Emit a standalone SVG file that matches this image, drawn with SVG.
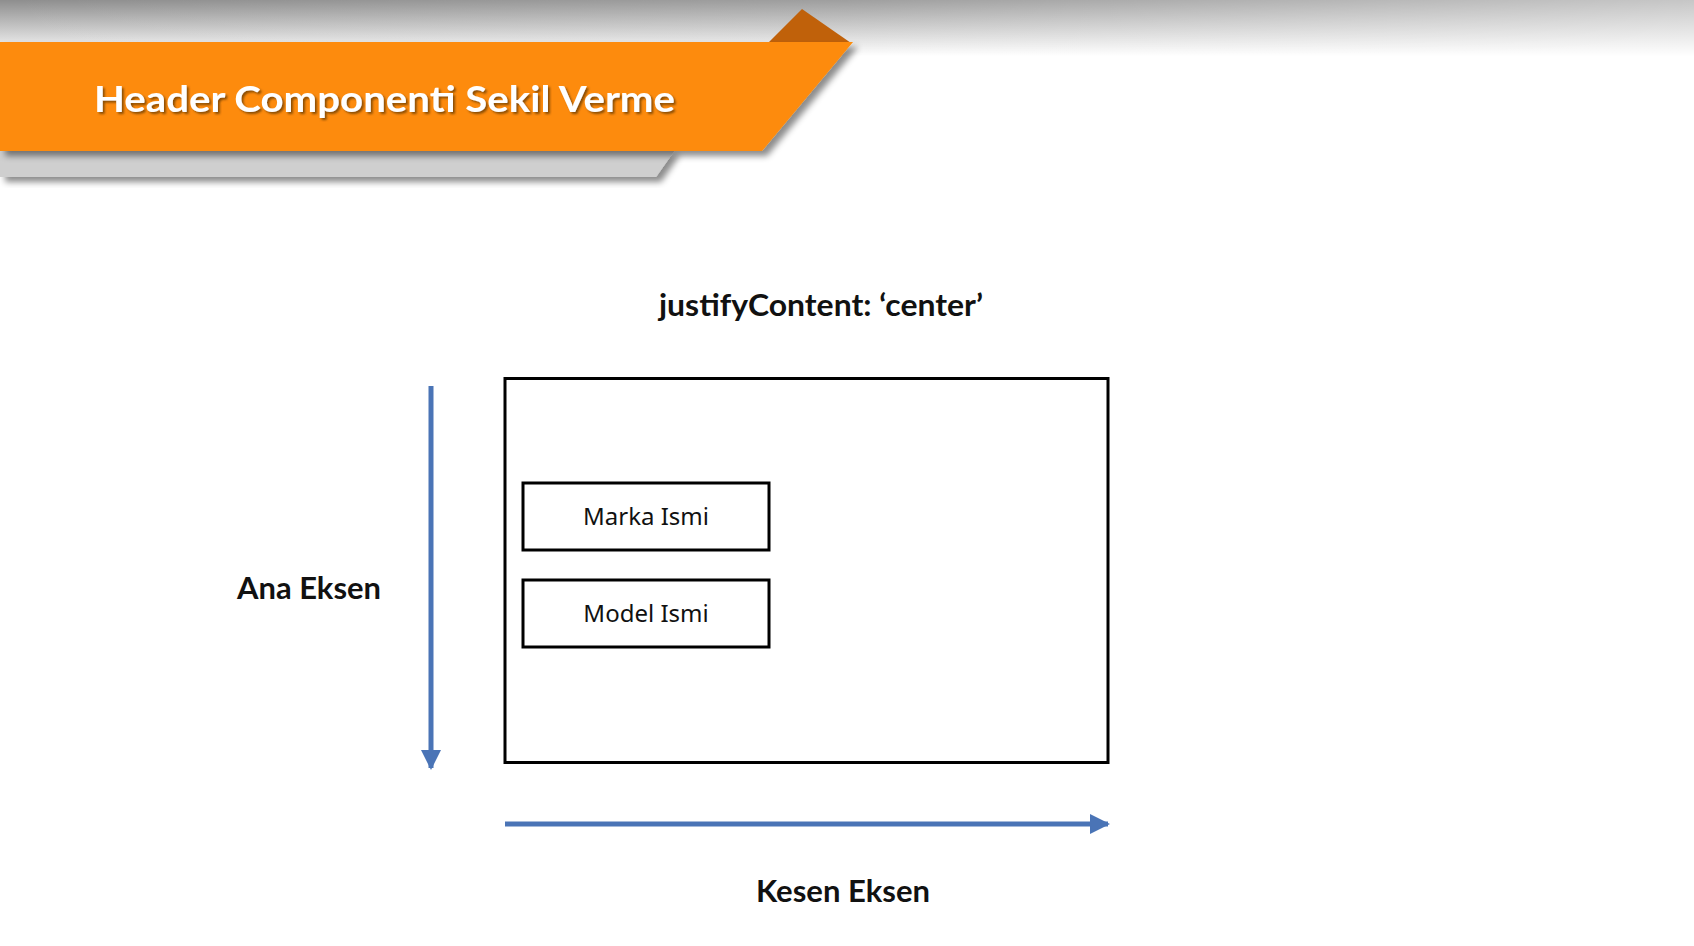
<svg xmlns="http://www.w3.org/2000/svg" width="1694" height="946" viewBox="0 0 1694 946">
<style>
.lbl{font-family:Lato,"Liberation Sans",sans-serif;font-weight:700;fill:#111;}
.box{fill:#fff;stroke:#000;stroke-width:3;}
.boxtxt{font-family:"Noto Sans","DejaVu Sans",sans-serif;font-size:24px;fill:#111;text-anchor:middle;}
.axis{stroke:#4a74b6;stroke-width:5;fill:none;}
</style>
<defs>
<linearGradient id="topv" x1="0" y1="0" x2="0" y2="1">
<stop offset="0" stop-color="#8e8e8e"/>
<stop offset="1" stop-color="#ffffff"/>
</linearGradient>
<linearGradient id="toph" x1="0" y1="0" x2="1" y2="0">
<stop offset="0" stop-color="#fff" stop-opacity="0"/>
<stop offset="0.5" stop-color="#fff" stop-opacity="0.15"/>
<stop offset="1" stop-color="#fff" stop-opacity="0.5"/>
</linearGradient>
<filter id="sh" x="-5%" y="-20%" width="115%" height="160%">
<feDropShadow dx="5" dy="5" stdDeviation="3" flood-color="#000" flood-opacity="0.45"/>
</filter>
<filter id="tsh" x="-5%" y="-30%" width="110%" height="160%">
<feDropShadow dx="2" dy="2" stdDeviation="1.2" flood-color="#5a3000" flood-opacity="0.7"/>
</filter>
<marker id="ah" viewBox="0 0 10 10" refX="9" refY="5" markerWidth="4" markerHeight="4" orient="auto" markerUnits="strokeWidth">
<path d="M0,0 L10,5 L0,10 Z" fill="#4a74b6"/>
</marker>
</defs>
<rect width="1694" height="946" fill="#fff"/>
<g id="header">
<rect x="0" y="0" width="1694" height="56" fill="url(#topv)"/>
<rect x="0" y="0" width="1694" height="56" fill="url(#toph)"/>
<polygon points="0,150 675,150 656,177 0,177" fill="#cfcfcf" filter="url(#sh)"/>
<polygon points="769,42 802,9 851,43" fill="#c0610a"/>
<polygon points="0,42 853,42 762,151 0,151" fill="#fd8b08" filter="url(#sh)"/>
<text x="94" y="112" font-family="Lato,'Open Sans',sans-serif" font-weight="700" font-size="37" fill="#fff" textLength="581" lengthAdjust="spacingAndGlyphs" filter="url(#tsh)">Header Componenti Sekil Verme</text>
</g>
<g id="title">
<text class="lbl" x="659" y="316" font-size="30" textLength="324" lengthAdjust="spacingAndGlyphs">justifyContent: ‘center’</text>
</g>
<g id="container">
<rect class="box" x="505" y="378.5" width="603" height="384"/>
</g>
<g id="marka">
<rect class="box" x="523" y="483" width="246" height="67"/>
<text class="boxtxt" x="646" y="525">Marka Ismi</text>
</g>
<g id="model">
<rect class="box" x="523" y="580" width="246" height="67"/>
<text class="boxtxt" x="646" y="622">Model Ismi</text>
</g>
<g id="connectors">
<line class="axis" x1="431" y1="386" x2="431" y2="768" marker-end="url(#ah)"/>
<line class="axis" x1="505" y1="824" x2="1108" y2="824" marker-end="url(#ah)"/>
</g>
<g id="labels">
<text class="lbl" x="237" y="599" font-size="30" textLength="144" lengthAdjust="spacingAndGlyphs">Ana Eksen</text>
<text class="lbl" x="756" y="902" font-size="30" textLength="174" lengthAdjust="spacingAndGlyphs">Kesen Eksen</text>
</g>
</svg>
